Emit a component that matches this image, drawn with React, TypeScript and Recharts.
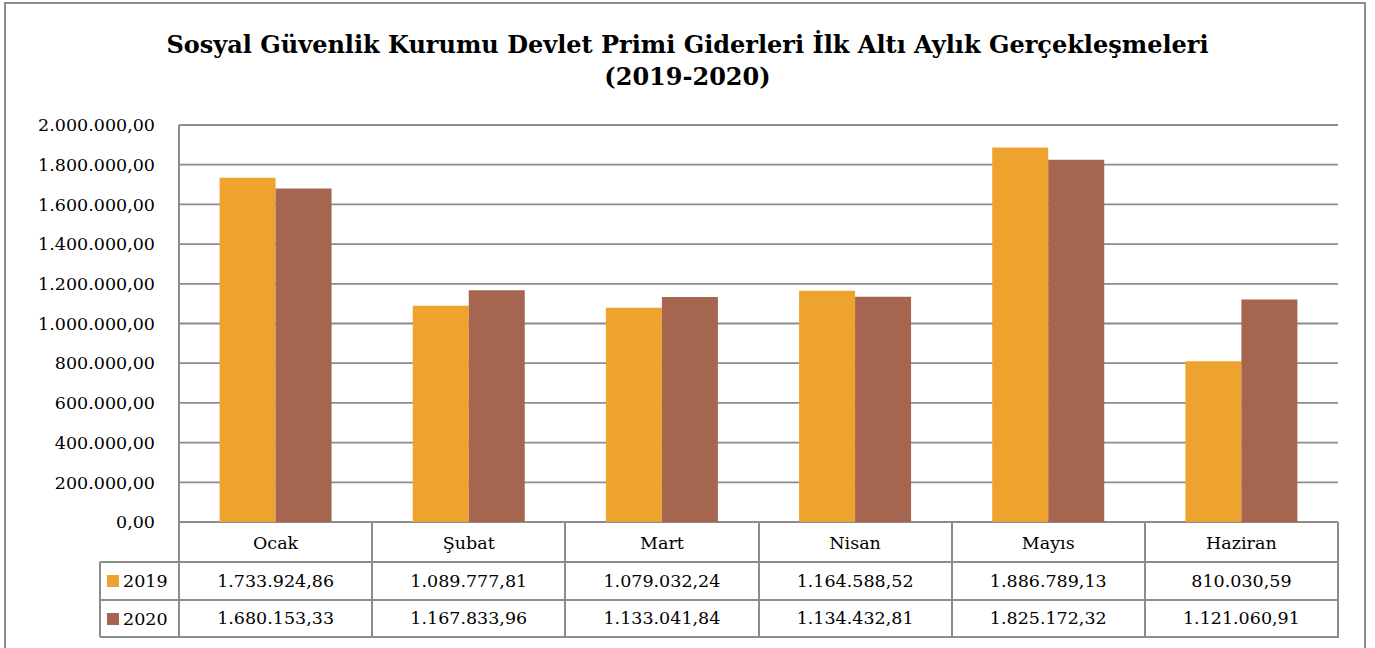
import React from "react";
import { BarChart, Bar, XAxis, YAxis, CartesianGrid } from "recharts";

const months = ["Ocak", "Şubat", "Mart", "Nisan", "Mayıs", "Haziran"];
const values2019 = [1733924.86, 1089777.81, 1079032.24, 1164588.52, 1886789.13, 810030.59];
const values2020 = [1680153.33, 1167833.96, 1133041.84, 1134432.81, 1825172.32, 1121060.91];
const yTicks = [0, 200000, 400000, 600000, 800000, 1000000, 1200000, 1400000, 1600000, 1800000, 2000000];

const COLOR_2019 = "#EFA32F";
const COLOR_2020 = "#A5654E";
const LINE = "#8c8c8c";
const FONT = "'DejaVu Serif', 'Liberation Serif', serif";

const data = months.map((m, i) => ({ month: m, y2019: values2019[i], y2020: values2020[i] }));

// Turkish number style: 1.733.924,86
function trFormat(v: number) {
  const [int, dec] = v.toFixed(2).split(".");
  return int.replace(/\B(?=(\d{3})+(?!\d))/g, ".") + "," + dec;
}

const W = 1375;
const H = 648;
const PLOT_LEFT = 179;
const PLOT_RIGHT = 1338;
const PLOT_TOP = 125;
const PLOT_BOTTOM = 522;
const TABLE_BOTTOM = 637;
const ROW1 = 562;
const ROW2 = 600;
const COL_W = (PLOT_RIGHT - PLOT_LEFT) / months.length;

function TableTick(props: any) {
  const { x, y, payload } = props;
  const i = payload.index;
  return (
    <g fontFamily={FONT} fontSize={17.5} fill="#000">
      <text x={x} y={y + 21} textAnchor="middle" dominantBaseline="central">
        {payload.value}
      </text>
      <text x={x} y={y + 59} textAnchor="middle" dominantBaseline="central">
        {trFormat(values2019[i])}
      </text>
      <text x={x} y={y + 96} textAnchor="middle" dominantBaseline="central">
        {trFormat(values2020[i])}
      </text>
    </g>
  );
}

export default function App() {
  const hLine = (top: number, left: number, width: number) => (
    <div style={{ position: "absolute", left, top: top - 1, width, height: 2, background: LINE }} />
  );
  const vLine = (left: number, top: number, height: number, key?: number) => (
    <div key={key} style={{ position: "absolute", left: left - 1, top, width: 2, height, background: LINE }} />
  );

  return (
    <div style={{ position: "absolute", left: 0, top: 0, width: W, height: H, background: "#fff", overflow: "hidden" }}>
      {/* outer frame */}
      <div
        style={{
          position: "absolute",
          left: 4,
          top: 2,
          width: 1362,
          height: 680,
          border: `2.5px solid ${LINE}`,
          boxSizing: "border-box",
        }}
      />
      <div
        style={{
          position: "absolute",
          left: 0,
          width: W,
          top: 29,
          textAlign: "center",
          fontFamily: FONT,
          fontWeight: "bold",
          fontSize: 24,
          lineHeight: "32px",
          color: "#000",
        }}
      >
        Sosyal Güvenlik Kurumu Devlet Primi Giderleri İlk Altı Aylık Gerçekleşmeleri
        <br />
        (2019-2020)
      </div>

      <div style={{ position: "absolute", left: 0, top: 0 }}>
        <BarChart
          width={W}
          height={H}
          data={data}
          margin={{ top: PLOT_TOP, left: PLOT_LEFT - 170, right: W - PLOT_RIGHT, bottom: H - PLOT_BOTTOM - 115 }}
          barCategoryGap="21%"
          barGap={0}
        >
          <CartesianGrid vertical={false} stroke={LINE} strokeWidth={1.8} />
          <XAxis
            dataKey="month"
            height={115}
            axisLine={false}
            tickLine={false}
            tickSize={0}
            tickMargin={0}
            interval={0}
            tick={<TableTick />}
          />
          <YAxis
            width={170}
            domain={[0, 2000000]}
            ticks={yTicks}
            interval={0}
            tickFormatter={trFormat}
            axisLine={{ stroke: LINE, strokeWidth: 2 }}
            tickLine={false}
            tickSize={0}
            tickMargin={24}
            tick={{ fontFamily: FONT, fontSize: 17.5, fill: "#000" }}
          />
          <Bar dataKey="y2019" fill={COLOR_2019} isAnimationActive={false} />
          <Bar dataKey="y2020" fill={COLOR_2020} isAnimationActive={false} />
        </BarChart>
      </div>

      {/* data table grid */}
      {hLine(ROW1, 100, PLOT_RIGHT - 100)}
      {hLine(ROW2, 100, PLOT_RIGHT - 100)}
      {hLine(TABLE_BOTTOM, 100, PLOT_RIGHT - 99)}
      {vLine(100, ROW1, TABLE_BOTTOM - ROW1)}
      {months.map((_, i) => vLine(PLOT_LEFT + COL_W * (i + 1), PLOT_BOTTOM, TABLE_BOTTOM - PLOT_BOTTOM, i))}
      {vLine(PLOT_LEFT, PLOT_BOTTOM, TABLE_BOTTOM - PLOT_BOTTOM)}

      {/* legend keys in the table */}
      {[
        { label: "2019", color: COLOR_2019, top: ROW1 },
        { label: "2020", color: COLOR_2020, top: ROW2 },
      ].map((r) => (
        <div
          key={r.label}
          style={{
            position: "absolute",
            left: 107,
            top: r.top,
            height: r.top === ROW1 ? ROW2 - ROW1 : TABLE_BOTTOM - ROW2,
            display: "flex",
            alignItems: "center",
            fontFamily: FONT,
            fontSize: 17.5,
            color: "#000",
          }}
        >
          <span style={{ display: "inline-block", width: 12, height: 12, background: r.color, marginRight: 4 }} />
          {r.label}
        </div>
      ))}
    </div>
  );
}
